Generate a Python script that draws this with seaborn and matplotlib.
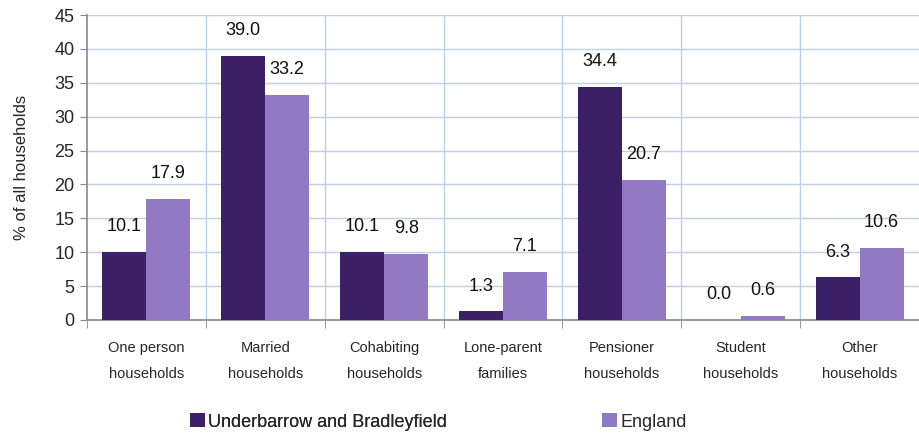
import matplotlib
matplotlib.use("Agg")
import matplotlib.pyplot as plt
import seaborn as sns
import pandas as pd

categories = ["One person\nhouseholds", "Married\nhouseholds", "Cohabiting\nhouseholds",
              "Lone-parent\nfamilies", "Pensioner\nhouseholds", "Student\nhouseholds",
              "Other\nhouseholds"]
local_values = [10.1, 39.0, 10.1, 1.3, 34.4, 0.0, 6.3]
england_values = [17.9, 33.2, 9.8, 7.1, 20.7, 0.6, 10.6]
series_names = ["Underbarrow and Bradleyfield", "England"]
colors = ["#3C2066", "#9179C4"]

df = pd.DataFrame({
    "category": categories * 2,
    "value": local_values + england_values,
    "series": [series_names[0]] * len(categories) + [series_names[1]] * len(categories),
})

sns.set_style("white")
plt.rcParams["font.family"] = ["Liberation Sans", "DejaVu Sans"]

fig = plt.figure(figsize=(9.19, 4.36), dpi=100)
ax = fig.add_axes([87 / 919, 116 / 436, 832 / 919, 305 / 436])

sns.barplot(data=df, x="category", y="value", hue="series", palette=colors,
            width=0.74, saturation=1, linewidth=0, ax=ax, zorder=3)

for cont in ax.containers:
    ax.bar_label(cont, fmt="%.1f", padding=12, fontsize=13, color="#111111")

ax.set_ylim(0, 45)
ax.set_yticks(range(0, 46, 5))
ax.set_xlim(-0.5, len(categories) - 0.5)
ax.set_xlabel("")
ax.set_ylabel("% of all households", fontsize=12, labelpad=18)

ax.grid(True, axis="y", color="#BCD0E6", linewidth=1, zorder=0)
for b in range(1, len(categories)):
    ax.axvline(b - 0.5, color="#BCD0E6", linewidth=1, zorder=0)

for s in ["top", "right"]:
    ax.spines[s].set_visible(False)
for s in ["left", "bottom"]:
    ax.spines[s].set_color("#888888")
    ax.spines[s].set_linewidth(1.2)

ax.tick_params(axis="y", labelsize=13, length=5, color="#888888", direction="out", left=True, pad=4)
ax.set_xticks(range(len(categories)))
ax.set_xticklabels(categories, fontsize=10.5, linespacing=2.1)
ax.tick_params(axis="x", length=0, pad=15)
ax.set_xticks([b - 0.5 for b in range(len(categories) + 1)], minor=True)
ax.tick_params(axis="x", which="minor", length=6, color="#888888", direction="out", bottom=True)

handles, labels = ax.get_legend_handles_labels()
if ax.get_legend() is not None:
    ax.get_legend().remove()

leg1 = fig.legend([handles[0]], [labels[0]], loc="center left",
                  bbox_to_anchor=(174 / 919, 1 - 422 / 436), frameon=False,
                  fontsize=13, handlelength=0.8, handleheight=0.8, handletextpad=0.2)
leg2 = fig.legend([handles[1]], [labels[1]], loc="center left",
                  bbox_to_anchor=(586 / 919, 1 - 422 / 436), frameon=False,
                  fontsize=13, handlelength=0.8, handleheight=0.8, handletextpad=0.2)
fig.add_artist(leg1)

fig.savefig("out.png", dpi=100)
